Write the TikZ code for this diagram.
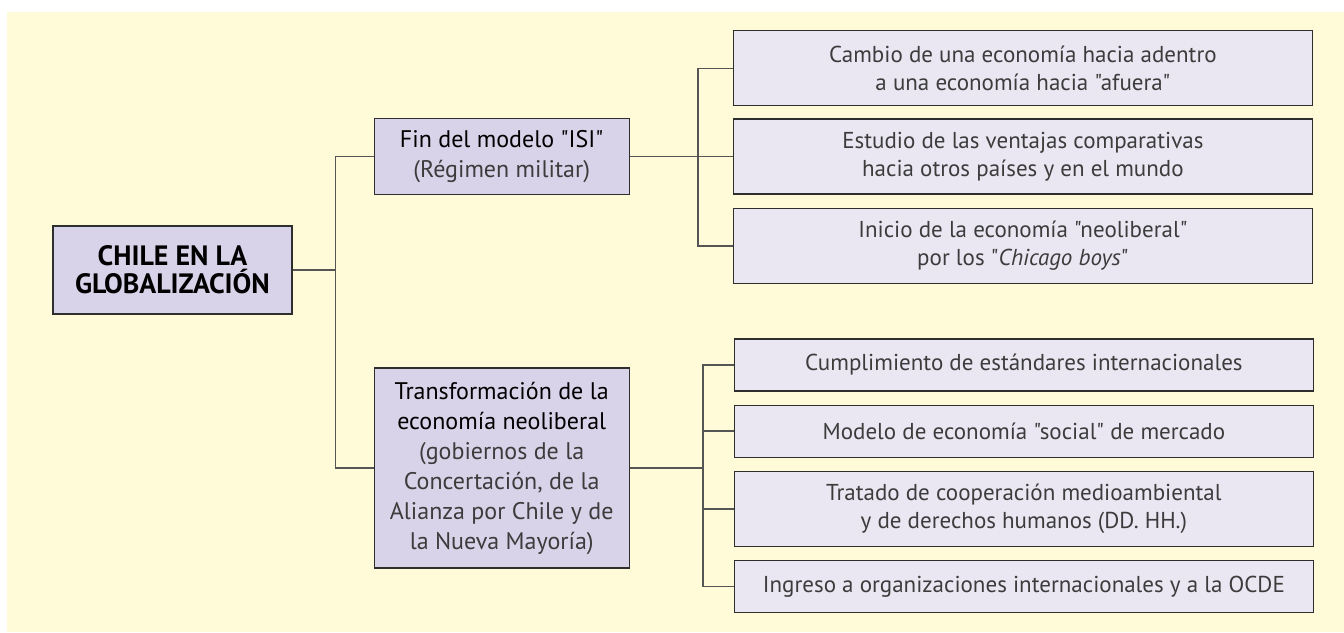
\documentclass[tikz,border=0pt]{standalone}
\usepackage{fontspec}
\setmainfont{PT Sans}[Ligatures=TeXOff]
\usepackage{xcolor}
\definecolor{globeCream}{HTML}{FFFAD8}
\definecolor{globeLilac}{HTML}{D8D3E8}
\definecolor{globePale}{HTML}{EAE7F2}
\definecolor{globeInk}{HTML}{2E2E2E}
\definecolor{globeGray}{HTML}{3C3C3C}
\definecolor{globeLine}{HTML}{555555}
\usepackage{tikz}
\usetikzlibrary{positioning, calc}

\begin{document}
\begin{tikzpicture}[
  x=1pt, y=1pt,
  node distance = 6.5pt and 52pt,
  mainbox/.style = {rectangle, draw=globeInk, fill=globeLilac, line width=0.6pt,
                    minimum width=127.5pt, inner sep=0pt, align=center,
                    font=\fontsize{12}{15}\selectfont},
  leafbox/.style = {rectangle, draw=globeInk, fill=globePale, line width=0.6pt,
                    minimum width=289.5pt, minimum height=26pt, inner sep=0pt,
                    align=center, font=\fontsize{11.5}{14}\selectfont\color{globeGray}},
  twoline/.style = {minimum height=37.5pt},
  link/.style = {draw=globeLine, line width=0.8pt},
]

% Background
\useasboundingbox (0,0) rectangle (672,-316);
\fill[globeCream] (3.5,-6) rectangle (672,-316);

% Root
\node[mainbox, minimum width=119.5pt, minimum height=44pt,
      font=\fontsize{14}{14}\selectfont\bfseries] (root) at (86.25,-135)
      {CHILE EN LA\\GLOBALIZACIÓN};

% Branches
\node[mainbox, minimum height=38pt, right=40.5pt of root, yshift=56.75pt] (fin)
      {Fin del modelo "ISI"\\{\color{globeGray}(Régimen militar)}};
\node[mainbox, minimum height=100pt, right=40.5pt of root, yshift=-99pt] (trans)
      {Transformación de la\\economía neoliberal\\
       {\color{globeGray}(gobiernos de la}\\{\color{globeGray}Concertación, de la}\\
       {\color{globeGray}Alianza por Chile y de}\\{\color{globeGray}la Nueva Mayoría)}};

% Leaves of the first branch
\node[leafbox, twoline, right=51.5pt of fin] (ventajas)
      {Estudio de las ventajas comparativas\\hacia otros países y en el mundo};
\node[leafbox, twoline, above=6pt of ventajas] (adentro)
      {Cambio de una economía hacia adentro\\a una economía hacia "afuera"};
\node[leafbox, twoline, below=of ventajas] (chicago)
      {Inicio de la economía "neoliberal"\\por los "\textit{Chicago boys}"};

% Leaves of the second branch
\node[leafbox, right=of trans, yshift=51.5pt] (estandares)
      {Cumplimiento de estándares internacionales};
\node[leafbox, below=of estandares] (social)
      {Modelo de economía "social" de mercado};
\node[leafbox, twoline, below=of social] (medioamb)
      {Tratado de cooperación medioambiental\\y de derechos humanos (DD. HH.)};
\node[leafbox, below=of medioamb] (ocde)
      {Ingreso a organizaciones internacionales y a la OCDE};

% Connectors
\draw[link] (root.east) -- ++(21.5,0) |- (fin.west);
\draw[link] (root.east) -- ++(21.5,0) |- (trans.west);

\draw[link] (fin.east) -- (ventajas.west);
\draw[link] (adentro.west) -- ++(-17.5,0) |- (chicago.west);

\coordinate (busB) at ([xshift=-15.5pt]estandares.west);
\draw[link] (trans.east) -- (trans.east -| busB);
\draw[link] (estandares.west) -- (busB) |- (ocde.west);
\draw[link] (social.west) -- (social.west -| busB);
\draw[link] (medioamb.west) -- (medioamb.west -| busB);

\end{tikzpicture}
\end{document}
